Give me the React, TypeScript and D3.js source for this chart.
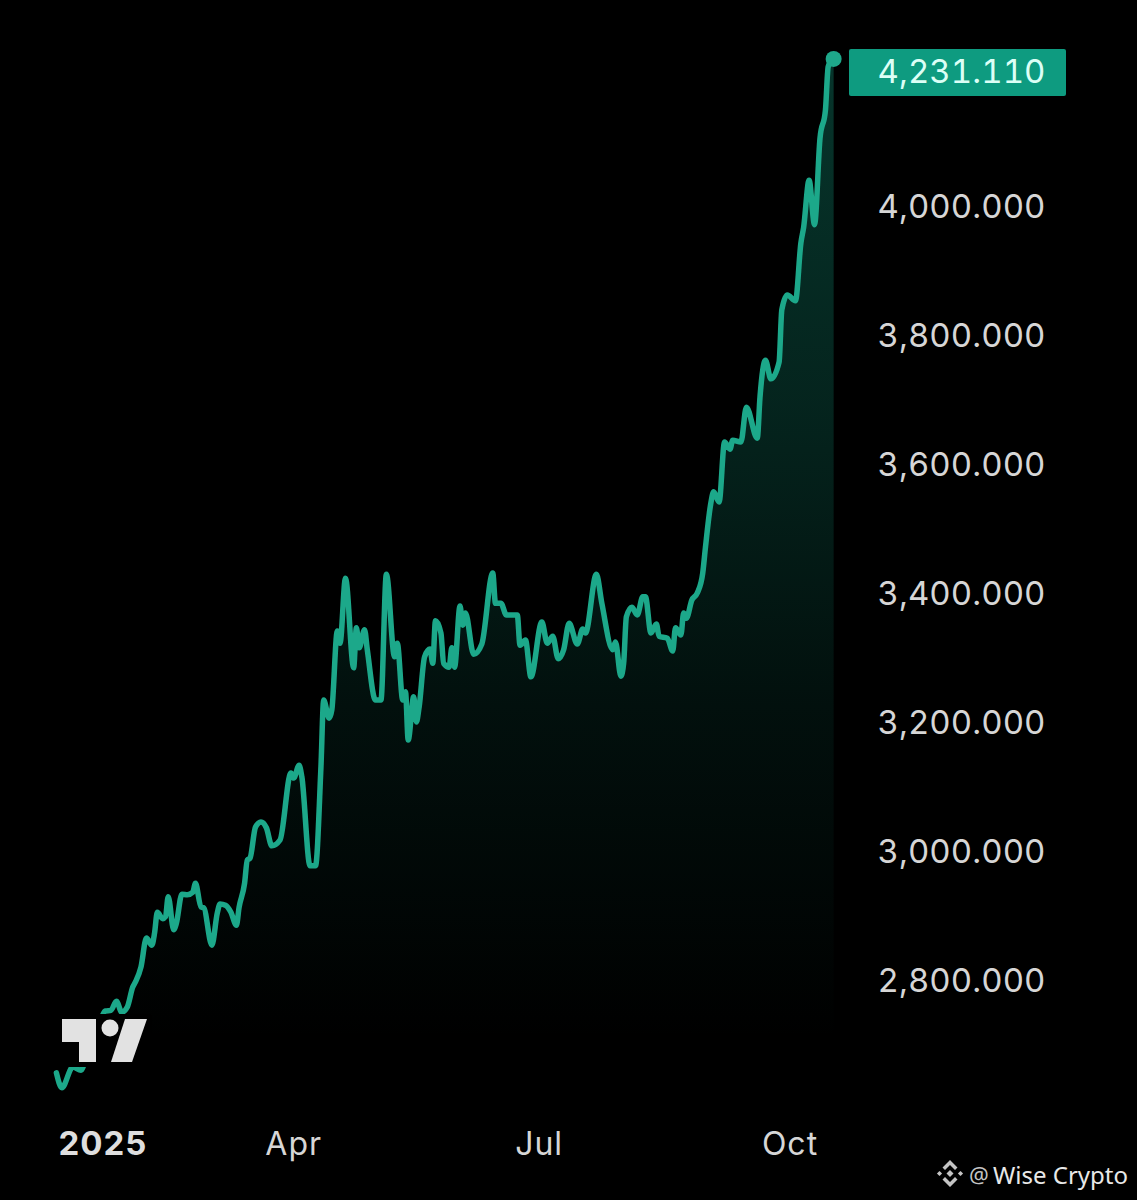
import React, { useRef, useEffect } from 'react';
import * as d3 from 'd3';

// days since 1 Jan 2025
const dayOffsets = [
  4, 6, 10, 13, 16, 19, 22, 24, 26, 28, 30, 32, 33, 35, 37, 39, 40, 41, 43, 44,
  45, 47, 48, 50, 52, 54, 55, 57, 58, 61, 63, 64, 66, 68, 70, 71, 73, 74, 75, 77,
  79, 81, 83, 86, 90, 91, 93, 94, 97, 99, 101, 102, 104, 105, 107, 108, 110, 113, 114, 115,
  117, 118, 121, 123, 125, 128, 129, 131, 132, 133, 135, 136, 137, 139, 141, 142, 143, 145, 146, 148,
  149, 150, 152, 153, 154, 157, 160, 164, 165, 167, 169, 173, 174, 176, 178, 182, 184, 186, 188, 190,
  192, 195, 197, 198, 202, 204, 208, 209, 211, 212, 213, 215, 217, 219, 220, 222, 224, 225, 228, 230,
  231, 233, 234, 235, 237, 239, 241, 242, 244, 245, 247, 249, 251, 252, 255, 257, 261, 262, 264, 266,
  269, 270, 272, 275, 277, 278, 280, 282, 284, 286, 287, 289,
];

const prices = [
  2656, 2633, 2665, 2660, 2699, 2722, 2752, 2753, 2767, 2750, 2758, 2789, 2797, 2820, 2865, 2854, 2873, 2905, 2895, 2898,
  2929, 2878, 2888, 2933, 2932, 2936, 2950, 2913, 2912, 2854, 2904, 2918, 2916, 2905, 2885, 2913, 2950, 2986, 2989, 3037,
  3045, 3036, 3008, 3017, 3121, 3113, 3133, 3115, 2977, 2977, 3130, 3234, 3206, 3219, 3341, 3322, 3423, 3284, 3346, 3315,
  3343, 3312, 3234, 3234, 3429, 3301, 3322, 3234, 3247, 3172, 3239, 3200, 3223, 3301, 3313, 3291, 3357, 3338, 3291, 3285,
  3315, 3285, 3380, 3350, 3369, 3305, 3321, 3431, 3384, 3384, 3366, 3366, 3319, 3327, 3270, 3355, 3322, 3333, 3298, 3312,
  3353, 3321, 3344, 3338, 3429, 3384, 3312, 3324, 3271, 3291, 3363, 3378, 3366, 3394, 3394, 3338, 3352, 3333, 3330, 3310,
  3346, 3335, 3369, 3361, 3389, 3400, 3431, 3471, 3540, 3557, 3541, 3634, 3623, 3637, 3634, 3688, 3640, 3704, 3761, 3732,
  3758, 3839, 3862, 3853, 3943, 3967, 4040, 3971, 4105, 4149, 4216, 4231.11,
];

const yTicks = [2800, 3000, 3200, 3400, 3600, 3800, 4000];
const monthLabels = ['Apr', 'Jul', 'Oct'];
const monthDays = [91, 181, 273];
const yearLabel = '2025';

const width = 1137;
const height = 1200;
const lineColor = '#1ea88a';
const numberFont = 'Inter, "Liberation Sans", sans-serif';

const App: React.FC = () => {
  const ref = useRef<SVGSVGElement | null>(null);

  useEffect(() => {
    if (!ref.current) return;
    const svg = d3.select(ref.current);
    svg.selectAll('*').remove();

    const toDate = (d: number) => d3.utcDay.offset(new Date(Date.UTC(2025, 0, 1)), d);
    const x = d3.scaleUtc()
      .domain([toDate(0), toDate(273)])
      .range([45.5, 790]);
    const y = d3.scaleLinear().domain([2800, 4000]).range([980, 206]);

    const points: [number, number][] = dayOffsets.map((d, i) => [x(toDate(d)), y(prices[i])]);
    const last = points[points.length - 1];

    svg.append('rect').attr('width', width).attr('height', height).attr('fill', '#000');

    const defs = svg.append('defs');
    // area fades out towards the bottom
    const grad = defs.append('linearGradient')
      .attr('id', 'areaFade')
      .attr('gradientUnits', 'userSpaceOnUse')
      .attr('x1', 0).attr('x2', 0)
      .attr('y1', y(4231.11)).attr('y2', 1040);
    const stops: [number, number][] = [[0, 0.32], [0.35, 0.22], [0.65, 0.1], [1, 0]];
    stops.forEach(([o, a]) => {
      grad.append('stop').attr('offset', o).attr('stop-color', '#14a587').attr('stop-opacity', a);
    });
    defs.append('filter').attr('id', 'soft')
      .append('feGaussianBlur').attr('stdDeviation', 0.7);

    const area = d3.area().x(d => d[0]).y0(1100).y1(d => d[1]).curve(d3.curveMonotoneX);
    const line = d3.line().x(d => d[0]).y(d => d[1]).curve(d3.curveMonotoneX);

    svg.append('path').attr('d', area(points) as string).attr('fill', 'url(#areaFade)');
    svg.append('path')
      .attr('d', line(points) as string)
      .attr('fill', 'none')
      .attr('stroke', lineColor)
      .attr('stroke-width', 5.5)
      .attr('stroke-linejoin', 'round')
      .attr('stroke-linecap', 'round')
      .attr('filter', 'url(#soft)');
    svg.append('circle')
      .attr('cx', last[0]).attr('cy', last[1] + 2).attr('r', 8)
      .attr('fill', lineColor);

    // logo sits on its own black patch and cuts the line
    svg.append('rect')
      .attr('x', 52).attr('y', 1014).attr('width', 100).attr('height', 53)
      .attr('rx', 4).attr('fill', '#000');
    const logo = svg.append('g').attr('fill', '#e2e2e2');
    logo.append('path').attr('d', 'M62,1019H96V1062H79V1042H62Z');
    logo.append('circle').attr('cx', 110).attr('cy', 1028).attr('r', 8.5);
    logo.append('path').attr('d', 'M125,1019H147L132,1062H111Z');

    // y axis
    const yAxis = svg.append('g')
      .attr('transform', 'translate(877.5,1)')
      .call(d3.axisRight(y).tickValues(yTicks).tickSize(0).tickPadding(0).tickFormat(d3.format(',.3f') as any));
    yAxis.select('.domain').remove();
    yAxis.selectAll('text')
      .attr('font-family', numberFont)
      .attr('font-size', 33)
      .attr('textLength', 168)
      .style('font-feature-settings', '"tnum"')
      .attr('fill', '#d6d6d6');

    // last price badge
    svg.append('rect')
      .attr('x', 849).attr('y', 49).attr('width', 217).attr('height', 47)
      .attr('rx', 2).attr('fill', '#0e9b80');
    svg.append('text')
      .attr('x', 877.5).attr('y', 71)
      .attr('dy', '.36em')
      .attr('font-family', numberFont)
      .attr('font-size', 33)
      .attr('textLength', 168)
      .style('font-feature-settings', '"tnum"')
      .attr('fill', '#dcfff6')
      .text(d3.format(',.3f')(prices[prices.length - 1]));

    // x labels
    svg.append('text')
      .attr('x', x(toDate(dayOffsets[0])) + 2).attr('y', 1155)
      .attr('font-family', numberFont)
      .attr('font-size', 33)
      .attr('font-weight', 700)
      .attr('letter-spacing', 1)
      .attr('fill', '#dedede')
      .text(yearLabel);
    monthLabels.forEach((label, i) => {
      svg.append('text')
        .attr('x', x(toDate(monthDays[i]))).attr('y', 1155)
        .attr('text-anchor', 'middle')
        .attr('font-family', numberFont)
        .attr('font-size', 32)
        .attr('letter-spacing', 1)
        .attr('fill', '#d6d6d6')
        .text(label);
    });

    // watermark
    const mark = svg.append('g').attr('transform', 'translate(950,1173.5)').attr('fill', '#c4c4c4');
    mark.append('path').attr('d', 'M0,-3.5L3.5,0L0,3.5L-3.5,0Z');
    mark.append('path').attr('d', 'M-10.5,-2.6L-7.9,0L-10.5,2.6L-13.1,0Z');
    mark.append('path').attr('d', 'M10.5,-2.6L13.1,0L10.5,2.6L7.9,0Z');
    mark.append('path').attr('d', 'M0,-13.5L7.5,-6L5,-3.5L0,-8.5L-5,-3.5L-7.5,-6Z');
    mark.append('path').attr('d', 'M0,13.5L7.5,6L5,3.5L0,8.5L-5,3.5L-7.5,6Z');
    svg.append('text')
      .attr('x', 969).attr('y', 1183)
      .attr('font-family', '"Noto Sans", sans-serif')
      .attr('font-size', 22)
      .attr('fill', '#c4c4c4')
      .text('@');
    svg.append('text')
      .attr('x', 993).attr('y', 1184)
      .attr('font-family', '"Noto Sans", sans-serif')
      .attr('font-size', 24)
      .attr('fill', '#e8e8e8')
      .text('Wise Crypto');
  }, []);

  return (
    <svg
      ref={ref}
      width={width}
      height={height}
      style={{ position: 'absolute', left: 0, top: 0, display: 'block' }}
    />
  );
};

export default App;
